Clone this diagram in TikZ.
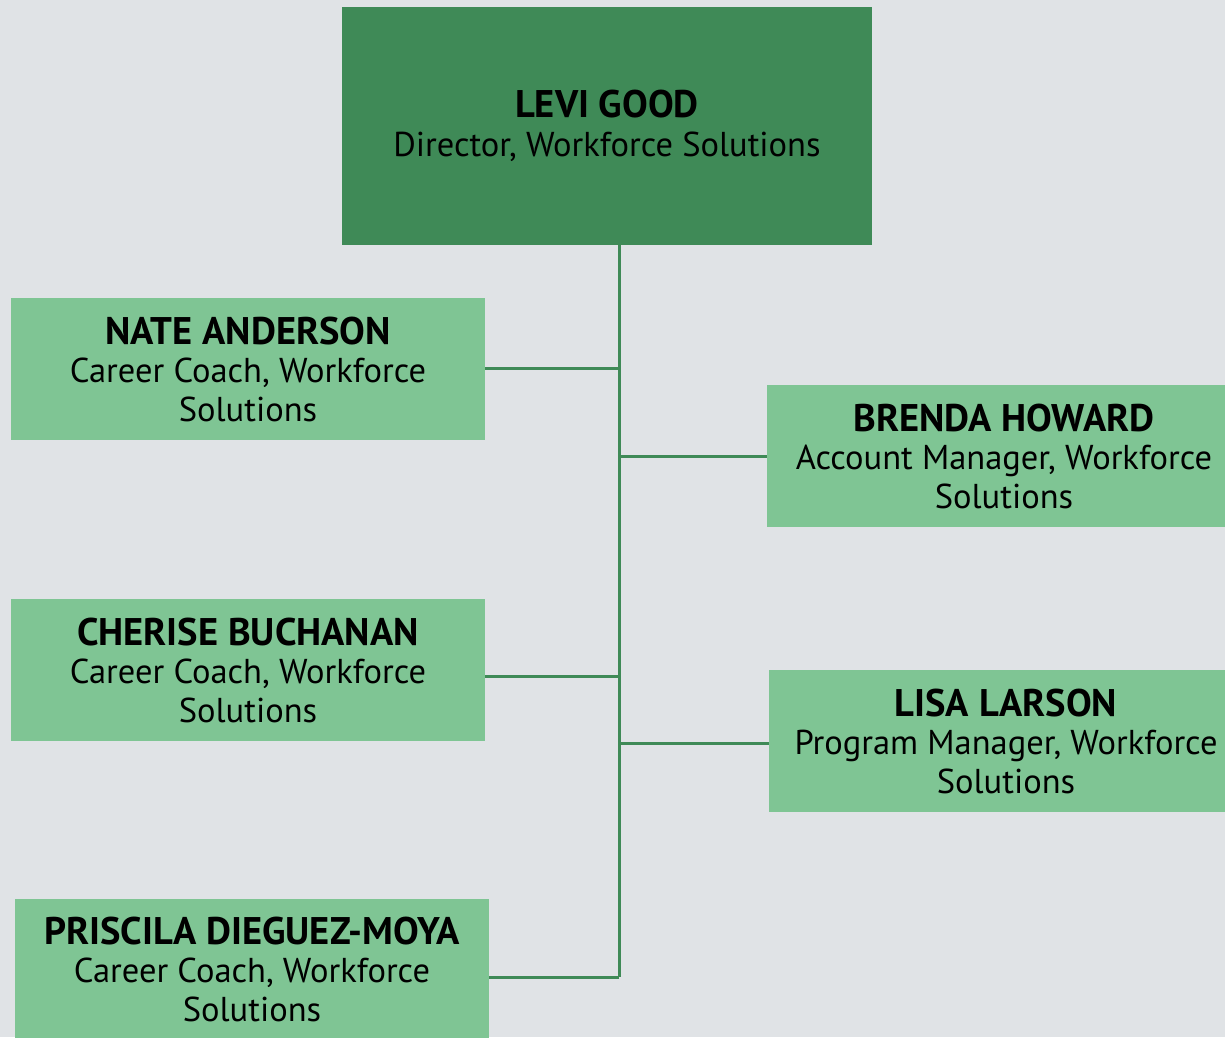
\documentclass[tikz,border=0pt]{standalone}
\usepackage{fontspec}
\setmainfont{PT Sans}
\definecolor{bgGray}{HTML}{E0E3E6}
\definecolor{darkGreen}{HTML}{3F8A57}
\definecolor{lightGreen}{HTML}{7FC594}
\newcommand{\namefont}{\fontsize{38.5}{39}\selectfont\bfseries}
\newcommand{\person}[2]{{\namefont #1}\\#2}

\begin{document}
\begin{tikzpicture}[x=1pt,y=-1pt,
    member/.style={fill=lightGreen, inner sep=0pt, minimum width=474pt,
        minimum height=142pt, align=center,
        font=\fontsize{34.5}{38.5}\selectfont},
    head/.style={member, fill=darkGreen, minimum width=530pt,
        minimum height=238pt},
    link/.style={draw=darkGreen, line width=3pt}]
\fill[bgGray] (0,0) rectangle (1225,1037);
\useasboundingbox (0,0) rectangle (1225,1037);

\node[head] (levi) at (607,126) {\person{LEVI GOOD}{Director, Workforce Solutions}};

\node[member] (nate) at (248,369) {\person{NATE ANDERSON}{Career Coach, Workforce\\Solutions}};
\node[member] (brenda) at (1004,456) {\person{BRENDA HOWARD}{Account Manager, Workforce\\Solutions}};
\node[member] (cherise) at (248,670) {\person{CHERISE BUCHANAN}{Career Coach, Workforce\\Solutions}};
\node[member] (lisa) at (1006,741) {\person{LISA LARSON}{Program Manager, Workforce\\Solutions}};
\node[member, minimum height=140pt] (priscila) at (252,969) {\person{PRISCILA DIEGUEZ-MOYA}{Career Coach, Workforce\\Solutions}};

% trunk
\coordinate (top) at (619,245);
\coordinate (bottom) at (619,977);
\draw[link] (top) -- (bottom);

% branches
\draw[link] ([yshift=1pt]nate.east) -- ([yshift=1pt]nate.east -| top);
\draw[link] (brenda.west) -- (brenda.west -| top);
\draw[link] ([yshift=-6pt]cherise.east) -- ([yshift=-6pt]cherise.east -| top);
\draw[link] ([yshift=-2pt]lisa.west) -- ([yshift=-2pt]lisa.west -| top);
\draw[link] (bottom) -- (bottom -| priscila.east);
\end{tikzpicture}
\end{document}
